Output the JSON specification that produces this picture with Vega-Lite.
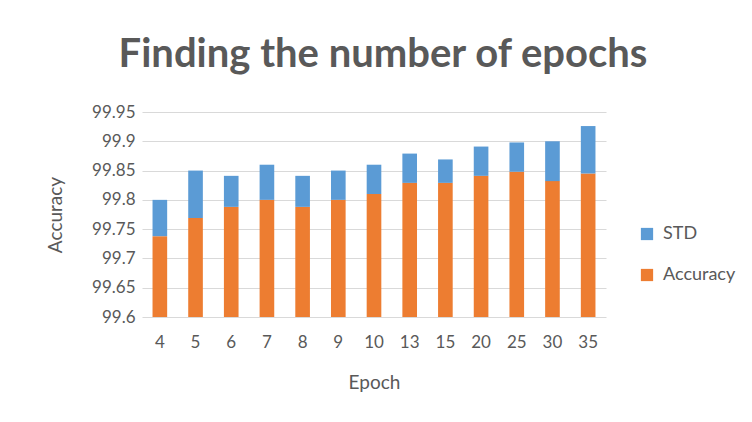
{
  "$schema": "https://vega.github.io/schema/vega-lite/v6.json",
  "width": 464,
  "height": 205,
  "autosize": {"type": "none"},
  "padding": {"left": 142, "top": 112, "right": 146, "bottom": 105},
  "background": "white",
  "config": {
    "font": "Lato",
    "view": {"stroke": null},
    "axis": {"labelColor": "#595959", "titleColor": "#595959", "labelFont": "Lato", "titleFont": "Lato", "titleFontWeight": "normal"}
  },
  "title": {
    "text": "Finding the number of epochs",
    "fontSize": 40,
    "fontWeight": "bold",
    "color": "#595959",
    "font": "Lato",
    "anchor": "middle",
    "dx": 9,
    "offset": 28
  },
  "data": {
    "values": [
      {"Epoch": "4", "Series": "Accuracy", "Value": 99.738},
      {"Epoch": "4", "Series": "STD", "Value": 0.062},
      {"Epoch": "5", "Series": "Accuracy", "Value": 99.769},
      {"Epoch": "5", "Series": "STD", "Value": 0.081},
      {"Epoch": "6", "Series": "Accuracy", "Value": 99.788},
      {"Epoch": "6", "Series": "STD", "Value": 0.053},
      {"Epoch": "7", "Series": "Accuracy", "Value": 99.8},
      {"Epoch": "7", "Series": "STD", "Value": 0.06},
      {"Epoch": "8", "Series": "Accuracy", "Value": 99.788},
      {"Epoch": "8", "Series": "STD", "Value": 0.053},
      {"Epoch": "9", "Series": "Accuracy", "Value": 99.8},
      {"Epoch": "9", "Series": "STD", "Value": 0.05},
      {"Epoch": "10", "Series": "Accuracy", "Value": 99.81},
      {"Epoch": "10", "Series": "STD", "Value": 0.05},
      {"Epoch": "13", "Series": "Accuracy", "Value": 99.829},
      {"Epoch": "13", "Series": "STD", "Value": 0.05},
      {"Epoch": "15", "Series": "Accuracy", "Value": 99.829},
      {"Epoch": "15", "Series": "STD", "Value": 0.04},
      {"Epoch": "20", "Series": "Accuracy", "Value": 99.841},
      {"Epoch": "20", "Series": "STD", "Value": 0.05},
      {"Epoch": "25", "Series": "Accuracy", "Value": 99.848},
      {"Epoch": "25", "Series": "STD", "Value": 0.05},
      {"Epoch": "30", "Series": "Accuracy", "Value": 99.832},
      {"Epoch": "30", "Series": "STD", "Value": 0.068},
      {"Epoch": "35", "Series": "Accuracy", "Value": 99.845},
      {"Epoch": "35", "Series": "STD", "Value": 0.081}
    ]
  },
  "mark": {"type": "bar", "clip": true},
  "encoding": {
    "x": {
      "field": "Epoch",
      "type": "ordinal",
      "sort": null,
      "scale": {"paddingInner": 0.59, "paddingOuter": 0.295},
      "axis": {
        "title": "Epoch",
        "labelAngle": 0,
        "labelFontSize": 17,
        "titleFontSize": 19,
        "ticks": false,
        "domain": false,
        "labelPadding": 17,
        "titlePadding": 23
      }
    },
    "y": {
      "field": "Value",
      "type": "quantitative",
      "stack": "zero",
      "scale": {"domain": [99.6, 99.95], "zero": false, "nice": false},
      "axis": {
        "title": "Accuracy",
        "values": [99.6, 99.65, 99.7, 99.75, 99.8, 99.85, 99.9, 99.95],
        "format": "~g",
        "labelFontSize": 17,
        "titleFontSize": 19,
        "ticks": false,
        "domain": false,
        "labelPadding": 7,
        "titlePadding": 26,
        "gridColor": "#D9D9D9",
        "gridWidth": 1
      }
    },
    "color": {
      "field": "Series",
      "type": "nominal",
      "scale": {"domain": ["STD", "Accuracy"], "range": ["#5B9BD5", "#ED7D31"]},
      "legend": {
        "title": null,
        "orient": "none",
        "legendX": 496,
        "legendY": 113,
        "symbolType": "square",
        "symbolSize": 150,
        "symbolStrokeWidth": 0,
        "labelFontSize": 18,
        "labelColor": "#595959",
        "labelFont": "Lato",
        "rowPadding": 23,
        "labelOffset": 7
      }
    },
    "order": {"field": "Series", "sort": "ascending"}
  }
}
